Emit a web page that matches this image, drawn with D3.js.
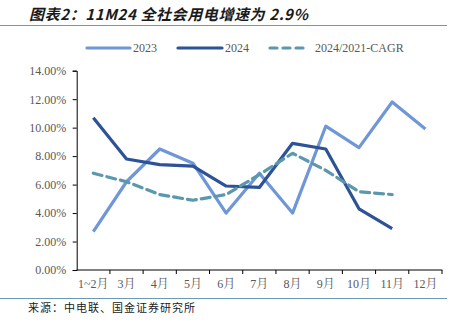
<!DOCTYPE html>
<html><head><meta charset="utf-8">
<script src="https://cdn.jsdelivr.net/npm/d3@7"></script>
<style>
html,body{margin:0;padding:0;background:#fff;}
svg{display:block;}
</style></head>
<body>
<svg id="c" width="464" height="323"></svg>
<script>
const categories = ["1~2月","3月","4月","5月","6月","7月","8月","9月","10月","11月","12月"];
const s2023 = [2.7, 6.2, 8.5, 7.5, 4.0, 6.8, 4.0, 10.1, 8.6, 11.8, 9.9];
const s2024 = [10.7, 7.8, 7.4, 7.3, 5.9, 5.8, 8.9, 8.5, 4.3, 2.9];
const sCagr = [6.8, 6.2, 5.3, 4.9, 5.3, 6.7, 8.2, 7.0, 5.5, 5.3];
const yTicks = [0, 2, 4, 6, 8, 10, 12, 14];
const seriesNames = ["2023", "2024", "2024/2021-CAGR"];

const svg = d3.select("#c");
const serif = "'Liberation Serif','Times New Roman','Noto Serif CJK SC','Noto Sans CJK SC',serif";
const cjk = "'Noto Sans CJK SC',sans-serif";

const x = d3.scaleBand().domain(categories).range([76.7, 442]);
const y = d3.scaleLinear().domain([0, 14]).range([270, 70.7]);

// title
svg.append("text").attr("x", 29).attr("y", 20)
  .attr("font-family", cjk).attr("font-size", 15).attr("font-weight", "bold")
  .attr("font-style", "italic").attr("fill", "#1a1a1a")
  .attr("textLength", 279).attr("lengthAdjust", "spacing")
  .text("图表2：11M24 全社会用电增速为 2.9%");
svg.append("line").attr("x1", 0).attr("x2", 447).attr("y1", 25.5).attr("y2", 25.5)
  .attr("stroke", "#6a9ab5").attr("stroke-width", 1);

// axes
const yAxis = svg.append("g").attr("transform", "translate(76.7,0)")
  .call(d3.axisLeft(y).tickValues(yTicks).tickFormat(d => d.toFixed(2) + "%").tickSizeOuter(0).tickSize(4));
yAxis.select(".domain").attr("stroke", "#000");
yAxis.selectAll(".tick line").attr("stroke", "#000");
yAxis.selectAll("text").attr("font-family", serif).attr("font-size", 12).attr("fill", "#595959").attr("x", -10.5);

const xAxis = svg.append("g").attr("transform", "translate(0,270)")
  .call(d3.axisBottom(x).tickSize(0).tickSizeOuter(0));
xAxis.select(".domain").attr("stroke", "#000").attr("d", "M76.7,0H442.3");
xAxis.selectAll("text").attr("font-family", serif).attr("font-size", 12).attr("fill", "#595959").attr("y", 9);
// tick marks at band boundaries
xAxis.selectAll(".bt").data(categories).enter().append("line")
  .attr("x1", d => x(d) + x.bandwidth()).attr("x2", d => x(d) + x.bandwidth())
  .attr("y1", 0).attr("y2", 4).attr("stroke", "#000");

// lines
const line = d3.line().x((d, i) => x(categories[i]) + x.bandwidth() / 2).y(d => y(d));
const colors = ["#6f97d8", "#2d5296", "#5b98ae"];
svg.append("path").datum(s2023).attr("d", line).attr("fill", "none")
  .attr("stroke", colors[0]).attr("stroke-width", 3.2).attr("stroke-linejoin", "round");
svg.append("path").datum(s2024).attr("d", line).attr("fill", "none")
  .attr("stroke", colors[1]).attr("stroke-width", 3.2).attr("stroke-linejoin", "round");
svg.append("path").datum(sCagr).attr("d", line).attr("fill", "none")
  .attr("stroke", colors[2]).attr("stroke-width", 3.2).attr("stroke-dasharray", "9,5")
  .attr("stroke-linecap", "round").attr("stroke-linejoin", "round");

// legend
const leg = [
  {x1: 87, x2: 130, tx: 133, dash: null},
  {x1: 178, x2: 222, tx: 225, dash: null},
  {x1: 270, x2: 308, tx: 315, dash: "7,6"}
];
leg.forEach((l, i) => {
  const ln = svg.append("line").attr("x1", l.x1).attr("x2", l.x2).attr("y1", 48).attr("y2", 48)
    .attr("stroke", colors[i]).attr("stroke-width", 3.2).attr("stroke-linecap", "round");
  if (l.dash) ln.attr("stroke-dasharray", l.dash);
  svg.append("text").attr("x", l.tx).attr("y", 52).attr("font-family", serif)
    .attr("font-size", 12).attr("fill", "#595959").text(seriesNames[i]);
});

// footer
svg.append("line").attr("x1", 0).attr("x2", 447).attr("y1", 298.5).attr("y2", 298.5)
  .attr("stroke", "#6a9ab5").attr("stroke-width", 1);
svg.append("text").attr("x", 28).attr("y", 312).attr("font-family", cjk)
  .attr("font-size", 11).attr("fill", "#1a1a1a")
  .attr("textLength", 167).attr("lengthAdjust", "spacing")
  .text("来源：中电联、国金证券研究所");
</script>
</body></html>
